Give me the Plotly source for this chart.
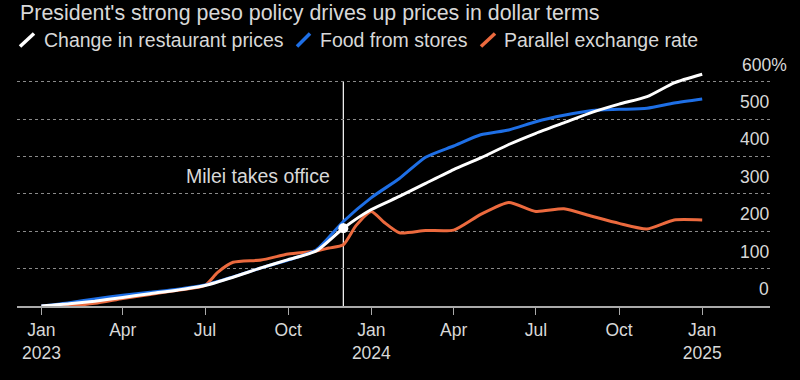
import plotly.graph_objects as go

# ---------------- data ----------------
months = ['2023-01-01', '2023-02-01', '2023-03-01', '2023-04-01', '2023-05-01', '2023-06-01',
          '2023-07-01', '2023-08-01', '2023-09-01', '2023-10-01', '2023-11-01', '2023-12-01',
          '2024-01-01', '2024-02-01', '2024-03-01', '2024-04-01', '2024-05-01', '2024-06-01',
          '2024-07-01', '2024-08-01', '2024-09-01', '2024-10-01', '2024-11-01', '2024-12-01',
          '2025-01-01']
restaurant = [0, 6, 13, 23, 33, 43, 55, 77, 102, 124, 147, 208,
              258, 293, 328, 365, 396, 432, 462, 490, 518, 540, 560, 597, 620]
food = [0, 9, 19, 29, 37, 45, 56, 78, 102, 123, 150, 226,
        290, 341, 398, 428, 458, 471, 493, 510, 523, 526, 529, 543, 554]

fx_dates = ['2023-01-01', '2023-02-01', '2023-03-01', '2023-04-01', '2023-05-01', '2023-06-01',
            '2023-07-01', '2023-07-15', '2023-08-01', '2023-09-01', '2023-10-01', '2023-11-01',
            '2023-11-15', '2023-12-01', '2023-12-15', '2024-01-01', '2024-01-15', '2024-02-01',
            '2024-03-01', '2024-04-01', '2024-05-01', '2024-06-01', '2024-07-01', '2024-08-01',
            '2024-09-01', '2024-10-01', '2024-11-01', '2024-12-01', '2025-01-01']
fx = [0, 1, 7, 20, 31, 42, 55, 90, 117, 123, 139, 147,
      155, 164, 215, 253, 224, 196, 202, 203, 245, 277, 253, 260,
      240, 221, 206, 230, 230]

milei_date = '2023-12-01'
milei_value = 208

x_tickvals = ['2023-01-01', '2023-04-01', '2023-07-01', '2023-10-01', '2024-01-01',
              '2024-04-01', '2024-07-01', '2024-10-01', '2025-01-01']
x_ticktext = ['Jan<br>2023', 'Apr', 'Jul', 'Oct', 'Jan<br>2024', 'Apr', 'Jul', 'Oct', 'Jan<br>2025']
y_tickvals = [0, 100, 200, 300, 400, 500, 600]

series_names = ['Change in restaurant prices', 'Food from stores', 'Parallel exchange rate']
colors = ['#ffffff', '#1e6fe6', '#ec6a3e']

title = "President's strong peso policy drives up prices in dollar terms"

# ---------------- layout helpers ----------------
W, H = 800, 380
ML, MT = 17, 63
PW, PH = 753, 243
MR, MB = W - ML - PW, H - MT - PH


def px2x(px):
    return (px - ML) / PW


def px2y(py):
    return (MT + PH - py) / PH


FONT = 'Liberation Sans, Arial, sans-serif'
TXT = '#d8d8d8'

fig = go.Figure()

fig.add_trace(go.Scatter(x=fx_dates, y=fx, mode='lines', name=series_names[2],
                         line=dict(color=colors[2], width=3, shape='spline', smoothing=0.6)))
fig.add_trace(go.Scatter(x=months, y=food, mode='lines', name=series_names[1],
                         line=dict(color=colors[1], width=3, shape='spline', smoothing=0.6)))
fig.add_trace(go.Scatter(x=months, y=restaurant, mode='lines', name=series_names[0],
                         line=dict(color=colors[0], width=3, shape='spline', smoothing=0.6)))
fig.add_trace(go.Scatter(x=[milei_date], y=[milei_value], mode='markers',
                         marker=dict(color='#ffffff', size=10), showlegend=False))

shapes = [dict(type='line', xref='x', yref='y', x0=milei_date, x1=milei_date, y0=0, y1=600,
               line=dict(color='#ffffff', width=1.2), layer='below')]

# legend slashes
legend_slash_px = [(20, 34), (297, 310), (481, 495)]
for (a, b), c in zip(legend_slash_px, colors):
    shapes.append(dict(type='line', xref='paper', yref='paper',
                       x0=px2x(a), x1=px2x(b), y0=px2y(46.5), y1=px2y(33.5),
                       line=dict(color=c, width=3.5)))

annotations = []
legend_text_px = [43, 319, 503]
for name, xp in zip(series_names, legend_text_px):
    annotations.append(dict(text=name, xref='paper', yref='paper', x=px2x(xp), y=px2y(40),
                            xanchor='left', yanchor='middle', showarrow=False,
                            font=dict(family=FONT, size=19.5, color=TXT), borderpad=0))

annotations.append(dict(text=title, xref='paper', yref='paper', x=px2x(19), y=px2y(0),
                        xanchor='left', yanchor='top', showarrow=False,
                        font=dict(family=FONT, size=21.4, color=TXT), borderpad=0))

annotations.append(dict(text='Milei takes office', xref='x', yref='paper', x=milei_date,
                        y=px2y(176), xanchor='right', yanchor='middle', xshift=-12,
                        showarrow=False, font=dict(family=FONT, size=19.5, color=TXT), borderpad=0))

for v in y_tickvals:
    if v == 600:
        annotations.append(dict(text=f'{v}%', xref='paper', yref='y', x=1, y=v, xanchor='left',
                                xshift=-29, yanchor='middle', yshift=17, showarrow=False,
                                font=dict(family=FONT, size=17.5, color=TXT), borderpad=0))
    else:
        annotations.append(dict(text=f'{v}', xref='paper', yref='y', x=1, y=v, xanchor='right',
                                yanchor='middle', yshift=17, showarrow=False,
                                font=dict(family=FONT, size=17.5, color=TXT), borderpad=0))

fig.update_layout(
    width=W, height=H,
    margin=dict(l=ML, r=MR, t=MT, b=MB, pad=0),
    paper_bgcolor='#000000', plot_bgcolor='#000000',
    showlegend=False,
    shapes=shapes, annotations=annotations,
    xaxis=dict(range=['2022-12-05', '2025-03-17'], type='date',
               tickvals=x_tickvals, ticktext=x_ticktext,
               tickfont=dict(family=FONT, size=17.5, color=TXT),
               ticks='outside', ticklen=7, tickwidth=1.2, tickcolor='#aaaaaa',
               showline=True, linecolor='#aaaaaa', linewidth=1.5,
               showgrid=False, zeroline=False, fixedrange=True, automargin=False),
    yaxis=dict(range=[0, 650], tickvals=[100, 200, 300, 400, 500, 600],
               showticklabels=False, showgrid=True, gridcolor='#8a8a8a', griddash='dot',
               gridwidth=1, zeroline=False, showline=False, ticks='', fixedrange=True,
               automargin=False),
)

# remove the browser's default body margin so the figure fills the window from (0, 0)
fig.write_html('out.html',
               config={'displayModeBar': False},
               post_script="document.body.style.margin='0';document.body.style.background='#000';")
